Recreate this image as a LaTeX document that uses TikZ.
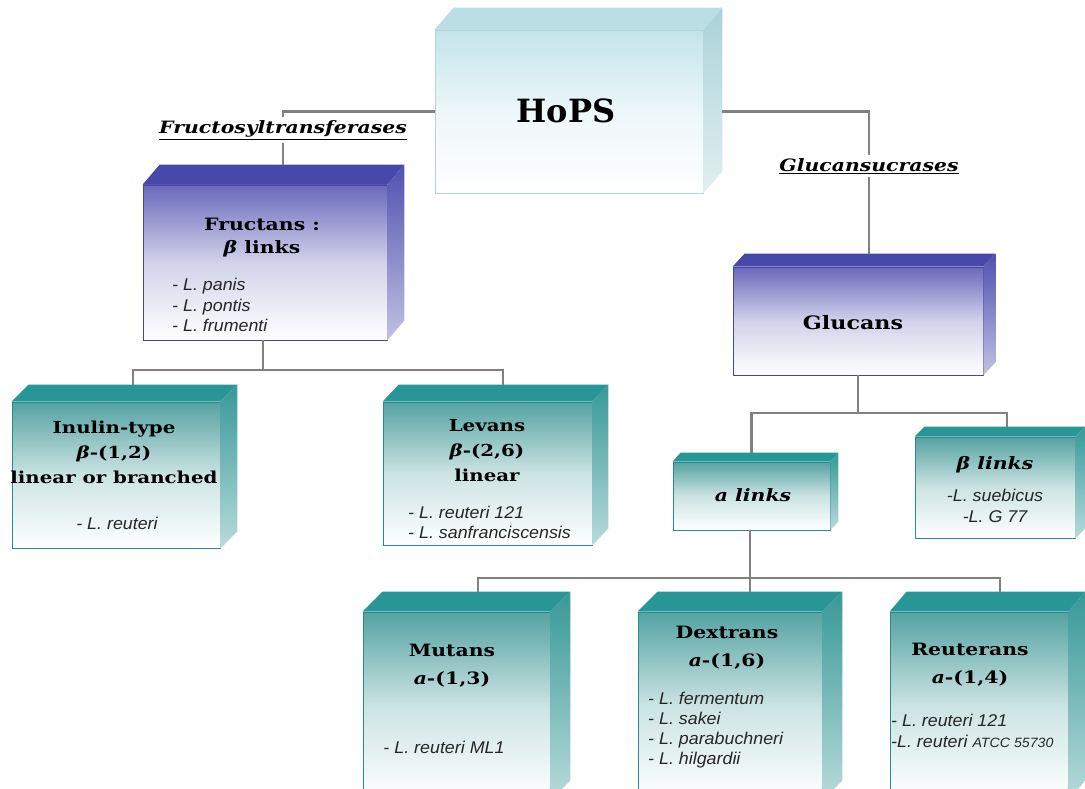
\documentclass[tikz,border=0pt]{standalone}
\usepackage{fontspec}
\setmainfont{DejaVu Serif}
\newfontfamily\spfont[FakeStretch=1.05]{Liberation Sans}
\newfontfamily\ttlfont[FakeStretch=1.2]{DejaVu Serif}
\definecolor{bluetop}{RGB}{72,72,168}
\definecolor{bluefront}{RGB}{105,105,188}
\definecolor{blueside}{RGB}{80,80,175}
\definecolor{blueedge}{RGB}{70,70,160}
\definecolor{tealtop}{RGB}{40,150,150}
\definecolor{tealfront}{RGB}{85,162,162}
\definecolor{tealside}{RGB}{55,152,152}
\definecolor{tealedge}{RGB}{40,140,140}
\definecolor{cyantop}{RGB}{185,222,228}
\definecolor{cyanfront}{RGB}{195,228,234}
\definecolor{cyanside}{RGB}{170,210,216}
\definecolor{cyanedge}{RGB}{175,212,218}
\definecolor{connc}{RGB}{128,128,128}
\tikzset{
  front/.style={draw=#1edge, line width=0.8pt, top color=#1front, bottom color=white, middle color=#1front!30, inner sep=0pt},
  conn/.style={draw=connc, line width=2.2pt},
  ttl/.style={font=\ttlfont\bfseries\fontsize{16.5}{25}\selectfont, align=center, inner sep=0pt, text=black},
  ttlb/.style={font=\ttlfont\bfseries\fontsize{17}{28}\selectfont, align=center, inner sep=0pt, text=black},
  sp/.style={font=\spfont\itshape\fontsize{17}{20.5}\selectfont, align=left, inner sep=0pt, text=black!85},
  enz/.style={font=\ttlfont\bfseries\itshape\fontsize{17}{20}\selectfont, inner sep=3pt},
}
\newcommand\boxthree[8]{%
  \node[front=#8, minimum width=#4pt, minimum height=#5pt] (#1) at (#2,#3) {};
  \fill[#8top] (#1.north west) -- ++(#6,-#7) -- ([shift={(#6,-#7)}]#1.north east) -- (#1.north east) -- cycle;
  \shade[top color=#8side, bottom color=#8side!35] (#1.north east) -- ++(#6,-#7) -- ([shift={(#6,-#7)}]#1.south east) -- (#1.south east) -- cycle;
}
\begin{document}
\begin{tikzpicture}[x=1pt,y=-1pt]
\useasboundingbox (0,0) rectangle (1085,789);
\clip (0,0) rectangle (1085,789);
% boxes
\boxthree{hops}{569}{111.5}{268}{163}{19}{22}{cyan}
\boxthree{fr}{265}{262.5}{244}{155}{17}{20}{blue}
\boxthree{in}{116}{475}{208}{146}{17}{17}{teal}
\boxthree{le}{487.5}{473.5}{209}{143}{16}{17}{teal}
\boxthree{gl}{858}{321}{250}{108}{12}{13}{blue}
\boxthree{al}{751.5}{496}{157}{68}{8}{9}{teal}
\boxthree{bl}{995}{487.5}{160}{101}{10}{10}{teal}
\boxthree{mu}{456.5}{706}{187}{188}{20}{20}{teal}
\boxthree{de}{730}{706}{184}{188}{20}{20}{teal}
\boxthree{re}{979}{706}{178}{188}{17}{20}{teal}
% texts
\node[font=\bfseries\fontsize{32}{36}\selectfont] (hopst) at (566,111) {HoPS};
\node[enz] (ft) at (283,130) {\underline{Fructosyltransferases}};
\node[enz] (gs) at (869,166) {\underline{Glucansucrases}};
\node[ttl, font=\ttlfont\bfseries\fontsize{17}{23}\selectfont] (frt) at (262,238) {Fructans :\\\textit{β} links};
\node[sp, anchor=west] (frs) at (172,305) {- L. panis\\- L. pontis\\- L. frumenti};
\node[ttl] (int) at (114,452) {Inulin-type\\\textit{β}-(1,2)\\linear or branched};
\node[sp] (ins) at (117,523) {- L. reuteri};
\node[ttl] (let) at (487,451) {Levans\\\textit{β}-(2,6)\\linear};
\node[sp, anchor=west] (les) at (408,522.5) {- L. reuteri 121\\- L. sanfranciscensis};
\node[font=\ttlfont\bfseries\fontsize{18.5}{24}\selectfont] (glt) at (853,323) {Glucans};
\node[font=\ttlfont\bfseries\itshape\fontsize{17}{20}\selectfont] (alt) at (753,495) {a links};
\node[font=\ttlfont\bfseries\itshape\fontsize{17}{20}\selectfont] (blt) at (995,465) {β links};
\node[sp, align=center] (bls) at (995,506) {-L. suebicus\\-L. G 77};
\node[ttlb] (mut) at (452,666) {Mutans\\\textit{a}-(1,3)};
\node[sp] (mus) at (444,747) {- L. reuteri ML1};
\node[ttlb] (det) at (727,648) {Dextrans\\\textit{a}-(1,6)};
\node[sp, anchor=west, font=\spfont\itshape\fontsize{17}{20}\selectfont] (des) at (648,730) {- L. fermentum\\- L. sakei\\- L. parabuchneri\\- L. hilgardii};
\node[ttlb] (ret) at (970,665) {Reuterans\\\textit{a}-(1,4)};
\node[sp, anchor=west] (res) at (891,731) {- L. reuteri 121\\-L. reuteri {\fontsize{13.5}{15}\selectfont ATCC 55730}};
% connectors
\draw[conn] (hops.west) -| (ft.north);
\draw[conn] (ft.south) -- ([yshift=20pt]ft.south |- fr.north);
\coordinate (jf) at (263,370);
\draw[conn] (fr.south -| jf) -- (jf);
\draw[conn] (jf) -| ([xshift=17pt,yshift=17pt]in.north);
\draw[conn] (jf) -| ([xshift=15.5pt,yshift=17pt]le.north);
\draw[conn] ([xshift=19pt]hops.east) -| (gs.north);
\draw[conn] (gs.south) -- ([yshift=13pt]gs.south |- gl.north);
\coordinate (jg) at (858,413);
\draw[conn] (gl.south) -- (jg);
\draw[conn] (jg) -| ([yshift=9pt]al.north);
\draw[conn] (jg) -| ([xshift=12pt,yshift=10pt]bl.north);
\coordinate (ja) at (750,578);
\draw[conn] (al.south -| ja) -- (ja);
\draw[conn] (ja) -| ([xshift=21.5pt,yshift=20pt]mu.north);
\draw[conn] (ja) -| ([xshift=20pt,yshift=20pt]de.north);
\draw[conn] (ja) -| ([xshift=21pt,yshift=20pt]re.north);
\end{tikzpicture}
\end{document}
